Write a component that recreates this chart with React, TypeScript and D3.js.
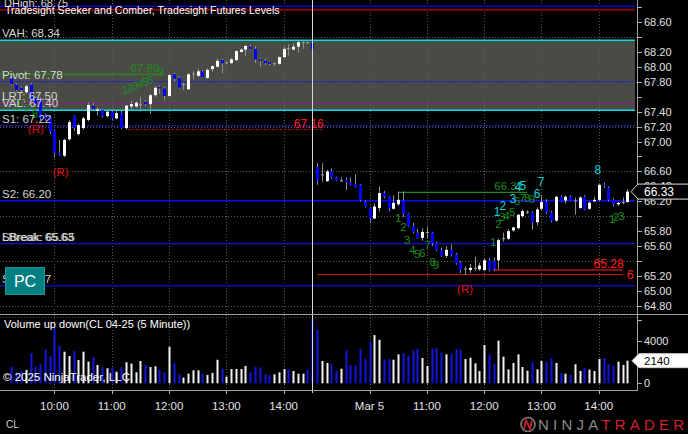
import React from "react";
import * as d3 from "d3";

const FONT = "'Liberation Sans', Arial, Helvetica, sans-serif";

// Bar index 0 = 09:05 (Mar 4), index 66 = 09:05 (Mar 5); 5-minute bars
const firstBar = 2;
const opens = [
  67.85, 67.76, 67.72, 67.66, 67.76, 67.58, 67.57, 67.35, 67.33, 67.15, 66.85, 66.81, 67.03, 67.34, 67.10, 67.18,
  67.29, 67.48, 67.41, 67.42, 67.34, 67.40, 67.31, 67.38, 67.18, 67.47, 67.47, 67.50, 67.53, 67.50, 67.62, 67.73,
  67.71, 67.61, 67.90, 67.85, 67.77, 67.70, 67.91, 67.88, 67.94, 67.85, 67.97, 68.00, 68.09, 68.05, 68.05, 68.09,
  68.20, 68.23, 68.27, 68.24, 68.10, 68.08, 68.06, 68.04, 68.04, 68.13, 68.25, 68.23, 68.27, 68.32, 68.33, 68.31,
  66.66, 66.55, 66.47, 66.60, 66.52, 66.48, 66.49, 66.45, 66.43, 66.42, 66.19, 66.11, 65.97, 66.11, 66.31, 66.26,
  66.10, 66.16, 66.21, 66.04, 65.87, 65.78, 65.71, 65.78, 65.78, 65.64, 65.54, 65.47, 65.55, 65.49, 65.38, 65.29,
  65.28, 65.30, 65.29, 65.28, 65.41, 65.40, 65.41, 65.70, 65.70, 65.81, 65.84, 66.00, 66.05, 66.05, 65.92, 66.10,
  66.19, 66.05, 65.94, 66.26, 66.21, 66.26, 66.20, 66.11, 66.26, 66.10, 66.20, 66.22, 66.42, 66.38, 66.22, 66.16,
  66.18, 66.19,
];
const highs = [
  67.87, 67.78, 67.74, 67.76, 67.78, 67.60, 67.59, 67.37, 67.35, 67.16, 67.02, 67.04, 67.29, 67.35, 67.24, 67.33,
  67.52, 67.52, 67.46, 67.44, 67.42, 67.43, 67.42, 67.42, 67.49, 67.55, 67.54, 67.60, 67.55, 67.64, 67.74, 67.75,
  67.73, 67.90, 67.92, 67.87, 67.79, 67.92, 67.94, 67.98, 67.96, 67.98, 68.02, 68.11, 68.11, 68.07, 68.12, 68.22,
  68.25, 68.29, 68.30, 68.28, 68.12, 68.11, 68.07, 68.06, 68.14, 68.27, 68.30, 68.31, 68.34, 68.34, 68.34, 68.35,
  66.71, 66.71, 66.62, 66.64, 66.53, 66.52, 66.52, 66.52, 66.56, 66.43, 66.21, 66.12, 66.17, 66.40, 66.34, 66.27,
  66.28, 66.33, 66.33, 66.05, 65.91, 65.83, 65.84, 65.86, 65.79, 65.66, 65.58, 65.60, 65.62, 65.51, 65.40, 65.33,
  65.36, 65.46, 65.38, 65.43, 65.44, 65.45, 65.70, 65.78, 65.83, 65.86, 66.03, 66.09, 66.08, 66.07, 66.12, 66.28,
  66.23, 66.07, 66.27, 66.28, 66.28, 66.28, 66.25, 66.27, 66.28, 66.20, 66.26, 66.43, 66.45, 66.40, 66.24, 66.19,
  66.25, 66.36,
];
const lows = [
  67.75, 67.67, 67.66, 67.64, 67.54, 67.48, 67.29, 67.28, 67.10, 66.79, 66.81, 66.79, 67.01, 67.14, 67.08, 67.16,
  67.27, 67.42, 67.35, 67.32, 67.32, 67.29, 67.30, 67.17, 67.16, 67.44, 67.45, 67.40, 67.48, 67.37, 67.60, 67.64,
  67.55, 67.60, 67.80, 67.71, 67.69, 67.69, 67.83, 67.86, 67.85, 67.84, 67.93, 67.99, 67.91, 68.03, 68.04, 68.08,
  68.19, 68.14, 68.23, 68.05, 68.00, 68.02, 68.02, 68.01, 68.03, 68.12, 68.15, 68.22, 68.19, 68.24, 68.30, 68.23,
  66.42, 66.46, 66.46, 66.50, 66.47, 66.46, 66.35, 66.41, 66.38, 66.20, 66.12, 65.91, 65.96, 66.06, 66.24, 66.07,
  66.09, 66.14, 65.99, 65.86, 65.77, 65.70, 65.67, 65.70, 65.60, 65.53, 65.46, 65.44, 65.46, 65.35, 65.24, 65.21,
  65.24, 65.27, 65.27, 65.27, 65.26, 65.27, 65.29, 65.66, 65.68, 65.79, 65.82, 65.98, 66.03, 65.82, 65.88, 66.08,
  66.03, 65.92, 65.93, 66.19, 66.17, 66.21, 66.02, 66.10, 66.08, 66.09, 66.19, 66.20, 66.38, 66.20, 66.13, 66.14,
  66.16, 66.18,
];
const closes = [
  67.77, 67.69, 67.69, 67.74, 67.56, 67.50, 67.31, 67.30, 67.13, 66.85, 66.82, 67.02, 67.26, 67.18, 67.22, 67.31,
  67.49, 67.44, 67.43, 67.34, 67.40, 67.31, 67.38, 67.18, 67.48, 67.50, 67.52, 67.50, 67.50, 67.62, 67.72, 67.71,
  67.61, 67.89, 67.84, 67.72, 67.77, 67.90, 67.91, 67.94, 67.86, 67.96, 68.01, 68.08, 68.05, 68.06, 68.10, 68.21,
  68.23, 68.28, 68.24, 68.10, 68.08, 68.05, 68.04, 68.05, 68.13, 68.24, 68.24, 68.27, 68.33, 68.33, 68.32, 68.24,
  66.48, 66.56, 66.60, 66.52, 66.48, 66.48, 66.46, 66.42, 66.39, 66.22, 66.13, 65.97, 66.13, 66.31, 66.26, 66.10,
  66.18, 66.22, 66.03, 65.87, 65.79, 65.71, 65.79, 65.79, 65.64, 65.55, 65.47, 65.55, 65.48, 65.37, 65.28, 65.30,
  65.31, 65.31, 65.34, 65.41, 65.28, 65.29, 65.68, 65.71, 65.80, 65.85, 66.02, 66.07, 66.06, 65.92, 66.09, 66.19,
  66.05, 65.94, 66.26, 66.20, 66.26, 66.22, 66.21, 66.25, 66.09, 66.18, 66.22, 66.42, 66.40, 66.22, 66.16, 66.18,
  66.19, 66.33,
];
const volumes = [
  1570, 1000, 1200, 1260, 2840, 1570, 1800, 3210, 2580, 5260, 3560, 2990, 2580, 3050, 2200, 2990,
  2050, 2460, 1730, 1510, 1420, 1480, 1100, 1520, 1990, 1860, 1040, 2110, 1730, 1540, 1610, 1290,
  1040, 3460, 1890, 850, 540, 910, 1230, 1230, 910, 790, 980, 2230, 1380, 630, 1350, 1350,
  1350, 1640, 1040, 1540, 1510, 850, 790, 850, 1040, 1350, 1290, 1160, 910, 910, 1260, 6080,
  5100, 2110, 1920, 1820, 1190, 1380, 3120, 1730, 1700, 3280, 2330, 3940, 4560, 4120, 2230, 2300,
  2230, 2740, 2870, 2610, 3120, 3280, 2390, 1640, 3280, 3340, 2870, 2740, 2770, 3210, 3180, 2300,
  2420, 1890, 1160, 3620, 2710, 1820, 4030, 2520, 1320, 1920, 2740, 1540, 1190, 1990, 1320, 2110,
  2050, 2350, 1920, 980, 910, 790, 1800, 1160, 1450, 1290, 1160, 2300, 2390, 1820, 1700, 2050,
  1730, 2140,
];

const hourBars = [11, 23, 35, 47, 59, 77, 89, 101, 113, 125];
const hourLabels = ["10:00", "11:00", "12:00", "13:00", "14:00", "Mar 5", "11:00", "12:00", "13:00", "14:00"];
const sessionBreakBar = 65;

const priceTicks = [64.8, 65.0, 65.2, 65.4, 65.6, 65.8, 66.0, 66.2, 66.4, 66.6, 66.8, 67.0, 67.2, 67.4, 67.6, 67.8, 68.0, 68.2, 68.4, 68.6, 68.8];
const priceTickLabels = ["68.60", "68.20", "68.00", "67.80", "67.40", "67.20", "67.00", "66.60", "66.40", "66.20", "65.80", "65.60", "65.20", "65.00", "64.80"];
const priceGrid = [64.8, 65.4, 66.0, 66.6, 67.2, 67.8, 68.4];
const volumeTicks = [0, 2000, 4000, 6000];
const volumeTickLabels = ["0", "4000"];

// key levels (line value, label text)
const levelNames = ["R1", "DHigh", "VAH", "Pivot", "LRT", "VAL", "S1", "S2", "LBreak", "SBreak", "S3"];
const levelValues = [68.81, 68.765, 68.355, 67.8, 67.51, 67.418, 67.212, 66.208, 65.632, 65.632, 65.07];
const levelTexts = ["", "DHigh: 68.75", "VAH: 68.34", "Pivot: 67.78", "LRT: 67.50", "VAL: 67.40", "S1: 67.22", "S2: 66.20", "LBreak: 65.63", "SBreak: 65.65", "S3: 65.07"];

// Seeker / Comber counts: [text, bar, price]
const greenCounts: [string, number, number][] = [
  ["5", 3.2, 67.48], ["6", 4.0, 67.52], ["7", 5.3, 67.45], ["8", 6.9, 67.37],
  ["1", 25.8, 67.69], ["2", 26.8, 67.72], ["3", 27.9, 67.74], ["4", 28.9, 67.77], ["5", 30.0, 67.8], ["6", 31.0, 67.82], ["9", 33.3, 67.93],
  ["1", 83.0, 65.97], ["2", 84.1, 65.86], ["3", 84.9, 65.68], ["4", 86.0, 65.55], ["5", 87.0, 65.49], ["6", 88.0, 65.51], ["7", 89.1, 65.62], ["8", 90.2, 65.39], ["9", 90.9, 65.35],
  ["1", 102.9, 65.65], ["2", 104.0, 65.89], ["3", 104.8, 65.99], ["4", 105.7, 66.0], ["5", 106.9, 66.06], ["6", 107.9, 66.2], ["7", 109.0, 66.25], ["8", 110.0, 66.25], ["9", 111.0, 66.23],
  ["1", 127.8, 65.96], ["2", 128.6, 65.99], ["3", 129.7, 66.0],
];
const cyanCounts: [string, number, number][] = [
  ["1", 103.7, 66.06], ["2", 104.9, 66.14], ["3", 107.0, 66.23], ["4", 108.1, 66.39], ["5", 109.1, 66.4], ["6", 112.1, 66.3], ["7", 112.9, 66.46], ["8", 124.8, 66.62],
];
const reversalMarks: [number, number][] = [[7.1, 67.17], [12.3, 66.59], [97.0, 65.03]];

// target lines: [fromBar, toBar, price, label]
const greenTargets: [number, number, number, string][] = [[-1, 33.8, 67.9, "67.89"], [83, 110, 66.32, "66.32"]];
const redTargets: [number, number, number, string][] = [[26.4, 67.2, 67.16, "67.16"], [102.8, 130, 65.28, "65.28"]];
const lowLine: [number, number, number, string] = [66, 130, 65.22, "65.22"];

const W = 688;
const H = 434;
const AX = 637;
const PRICE_BOTTOM = 314;
const VOL_TOP = 315;
const VOL_BOTTOM = 390;

export default function App() {
  const x = d3.scaleLinear().domain([0, 131]).range([1.9, 627.4]);
  const y = d3.scaleLinear().domain([64.8, 68.6]).range([305.9, 22]);
  const yv = d3.scaleLinear().domain([0, 4000]).range([383.3, 341]);

  const n = closes.length;
  const bars = d3.range(n).map((k) => ({
    g: firstBar + k,
    o: opens[k],
    h: highs[k],
    l: lows[k],
    c: closes[k],
    v: volumes[k],
  }));

  const lvl = (name: string) => levelValues[levelNames.indexOf(name)];
  const vah = lvl("VAH");
  const val = lvl("VAL");
  const levelStyle: Record<string, { stroke: string; w: number; dash?: string }> = {
    R1: { stroke: "#0000dd", w: 1.5 },
    DHigh: { stroke: "#8b0000", w: 2 },
    VAH: { stroke: "#00e0e8", w: 1.5 },
    Pivot: { stroke: "#2424b8", w: 1 },
    LRT: { stroke: "#8a1a8a", w: 1 },
    VAL: { stroke: "#00e0e8", w: 1.5 },
    S1: { stroke: "#2020a8", w: 1.5, dash: "2,1" },
    S2: { stroke: "#0a0aff", w: 1.5 },
    LBreak: { stroke: "#1010d0", w: 1 },
    SBreak: { stroke: "#1010d0", w: 1 },
    S3: { stroke: "#0c0c90", w: 2 },
  };

  const last = bars[n - 1];
  const lastPriceY = y(last.c);
  const lastVolY = yv(last.v);

  const gridColor = "#5a5a5a";
  const textColor = "#e2e2e2";

  return (
    <svg
      width={W}
      height={H}
      viewBox={`0 0 ${W} ${H}`}
      style={{ position: "fixed", left: 0, top: 0, background: "#000", display: "block" }}
      fontFamily={FONT}
    >
      <defs>
        <clipPath id="priceClip">
          <rect x={0} y={0} width={AX} height={PRICE_BOTTOM} />
        </clipPath>
        <clipPath id="labelClip">
          <rect x={0} y={0} width={634} height={PRICE_BOTTOM} />
        </clipPath>
        <clipPath id="volClip">
          <rect x={0} y={VOL_TOP} width={AX} height={VOL_BOTTOM - VOL_TOP} />
        </clipPath>
      </defs>
      <rect x={0} y={0} width={W} height={H} fill="#000" />

      {/* price panel */}
      <g clipPath="url(#priceClip)">
        <rect x={0} y={y(vah)} width={635} height={y(val) - y(vah)} fill="#4b4b45" />
        {priceGrid.map((p, i) => (
          <line key={"pg" + i} x1={0} x2={AX} y1={Math.round(y(p)) + 0.5} y2={Math.round(y(p)) + 0.5} stroke={gridColor} strokeDasharray="1,2" />
        ))}
        {hourBars.map((b, i) => (
          <line key={"vg" + i} x1={Math.round(x(b)) + 0.5} x2={Math.round(x(b)) + 0.5} y1={0} y2={PRICE_BOTTOM} stroke={gridColor} strokeDasharray="1,2" />
        ))}
        {levelNames.map((nm, i) => {
          const s = levelStyle[nm];
          const yy = y(levelValues[i]);
          return <line key={"lv" + i} x1={0} x2={635} y1={yy} y2={yy} stroke={s.stroke} strokeWidth={s.w} strokeDasharray={s.dash} />;
        })}
        {greenTargets.map((t, i) => (
          <g key={"gt" + i}>
            <line x1={x(t[0])} x2={x(t[1])} y1={y(t[2])} y2={y(t[2])} stroke="#1f8a1f" strokeWidth={1.2} />
            <text x={x(t[1]) - 4} y={y(t[2]) - 2.5} fill="#1f8a1f" fontSize={11.5} textAnchor="end">{t[3]}</text>
          </g>
        ))}
        <line x1={x(redTargets[0][0])} x2={x(redTargets[0][1])} y1={y(redTargets[0][2])} y2={y(redTargets[0][2])} stroke="#d01010" strokeWidth={1} strokeDasharray="2,2" />
        <text x={x(redTargets[0][1]) + 1} y={y(redTargets[0][2]) - 1.5} fill="#ff1a1a" fontSize={12} textAnchor="end">{redTargets[0][3]}</text>
        <line x1={x(redTargets[1][0])} x2={x(redTargets[1][1])} y1={y(redTargets[1][2])} y2={y(redTargets[1][2])} stroke="#8b0a0a" strokeWidth={2} />
        <text x={x(redTargets[1][1]) + 1} y={y(redTargets[1][2]) - 2} fill="#ff1a1a" fontSize={12} textAnchor="end">{redTargets[1][3]}</text>
        <line x1={x(lowLine[0])} x2={x(lowLine[1])} y1={y(lowLine[2])} y2={y(lowLine[2])} stroke="#cc1010" strokeWidth={1.2} />
        <g clipPath="url(#labelClip)">
          <text x={x(lowLine[1]) + 4} y={y(lowLine[2]) + 4.5} fill="#ff1a1a" fontSize={12.5}>{lowLine[3]}</text>
        </g>

        {/* candles */}
        {bars.map((b) => {
          const cx = Math.round(x(b.g));
          const up = b.c > b.o;
          const flat = Math.abs(b.c - b.o) < 0.015;
          const top = y(Math.max(b.o, b.c));
          const bot = y(Math.min(b.o, b.c));
          const fill = flat ? "#9a9a9a" : up ? "#ffffff" : "#0000ff";
          return (
            <g key={"c" + b.g}>
              <line x1={cx + 0.5} x2={cx + 0.5} y1={y(b.h)} y2={y(b.l)} stroke="#8e8e8e" strokeWidth={1} />
              <rect x={cx - 1} y={top} width={3} height={Math.max(1, bot - top)} fill={fill} />
            </g>
          );
        })}

        {greenCounts.map((t, i) => (
          <text key={"gc" + i} x={x(t[1])} y={y(t[2])} fill="#1e8a1e" fontSize={11.5} textAnchor="middle" dominantBaseline="central">{t[0]}</text>
        ))}
        {cyanCounts.map((t, i) => (
          <text key={"cc" + i} x={x(t[1])} y={y(t[2])} fill="#10d0d8" fontSize={12} textAnchor="middle" dominantBaseline="central">{t[0]}</text>
        ))}
        {reversalMarks.map((r, i) => (
          <text key={"rv" + i} x={x(r[0])} y={y(r[1])} fill="#e01010" fontSize={11.5} textAnchor="middle" dominantBaseline="central">(R)</text>
        ))}

        {levelNames.map((nm, i) =>
          levelTexts[i] && nm !== "DHigh" ? (
            <text key={"lt" + i} x={2} y={y(levelValues[i]) - 3} fill="#d4d4d4" fontSize={11.5}>{levelTexts[i]}</text>
          ) : null
        )}
        <text x={4} y={7} fill="#d4d4d4" fontSize={11}>{levelTexts[1]}</text>
        <text x={5} y={14} fill="#ffffff" fontSize={10.6}>Tradesight Seeker and Comber, Tradesight Futures Levels</text>

        <rect x={5.5} y={267.5} width={39} height={27} fill="#008080" stroke="#139a9a" strokeWidth={1} />
        <text x={25} y={281} fill="#ffffff" fontSize={16} textAnchor="middle" dominantBaseline="central">PC</text>
      </g>

      {/* volume panel */}
      <g clipPath="url(#volClip)">
        {hourBars.map((b, i) => (
          <line key={"vvg" + i} x1={Math.round(x(b)) + 0.5} x2={Math.round(x(b)) + 0.5} y1={VOL_TOP} y2={VOL_BOTTOM} stroke={gridColor} strokeDasharray="1,2" />
        ))}
        <line x1={0} x2={AX} y1={yv(6000) - 2.5} y2={yv(6000) - 2.5} stroke={gridColor} strokeDasharray="1,2" />
        {bars.map((b) => {
          const cx = Math.round(x(b.g));
          const up = b.c >= b.o;
          return <rect key={"v" + b.g} x={cx - 0.5} y={yv(b.v)} width={2} height={yv(0) - yv(b.v)} fill={up ? "#f2f2f2" : "#1414e6"} />;
        })}
        <text x={4} y={328} fill="#ffffff" fontSize={11}>Volume up down(CL 04-25 (5 Minute))</text>
        <text x={3} y={381} fill="#ffffff" fontSize={11.5}>© 2025 NinjaTrader, LLC</text>
      </g>

      {/* session break */}
      <line x1={Math.round(x(sessionBreakBar)) + 0.5} x2={Math.round(x(sessionBreakBar)) + 0.5} y1={0} y2={393} stroke="#d8d8d8" strokeWidth={1} />

      {/* frame / axes */}
      <line x1={0} x2={W} y1={314.5} y2={314.5} stroke="#a0a0a0" strokeWidth={1} />
      <line x1={0} x2={AX} y1={390.5} y2={390.5} stroke="#a0a0a0" strokeWidth={1} />
      <line x1={AX + 0.5} x2={AX + 0.5} y1={0} y2={391} stroke="#a0a0a0" strokeWidth={1} />

      {priceTicks.map((p, i) => {
        const yy = Math.round(y(p)) + 0.5;
        return yy < PRICE_BOTTOM ? <line key={"pt" + i} x1={AX} x2={AX + 5} y1={yy} y2={yy} stroke="#b0b0b0" /> : null;
      })}
      {priceTickLabels.map((s, i) => (
        <text key={"pl" + i} x={644} y={y(+s)} fill={textColor} fontSize={11} dominantBaseline="central">{s}</text>
      ))}
      {volumeTicks.map((v, i) => (
        <line key={"vt" + i} x1={AX} x2={AX + 5} y1={Math.round(yv(v)) + 0.5} y2={Math.round(yv(v)) + 0.5} stroke="#b0b0b0" />
      ))}
      {volumeTickLabels.map((s, i) => (
        <text key={"vl" + i} x={644} y={yv(+s)} fill={textColor} fontSize={11} dominantBaseline="central">{s}</text>
      ))}

      {/* last value markers */}
      <polygon
        points={`631,${lastPriceY} 638,${lastPriceY - 7.5} 690,${lastPriceY - 7.5} 690,${lastPriceY + 7.5} 638,${lastPriceY + 7.5}`}
        fill="#000"
        stroke="#e0e0e0"
        strokeWidth={1}
      />
      <text x={644} y={lastPriceY} fill="#ffffff" fontSize={12} dominantBaseline="central">{d3.format(".2f")(last.c)}</text>
      <polygon
        points={`632,${lastVolY} 639,${lastVolY - 7} 690,${lastVolY - 7} 690,${lastVolY + 7} 639,${lastVolY + 7}`}
        fill="#ffffff"
        stroke="#d0d0d0"
        strokeWidth={1}
      />
      <text x={644} y={lastVolY} fill="#000" fontSize={11.5} dominantBaseline="central">{last.v}</text>

      {/* time axis */}
      {hourBars.map((b, i) => (
        <g key={"ta" + i}>
          <line x1={Math.round(x(b)) + 0.5} x2={Math.round(x(b)) + 0.5} y1={390} y2={394} stroke="#b0b0b0" />
          <text x={x(b)} y={406} fill={textColor} fontSize={11.5} textAnchor="middle" dominantBaseline="central">{hourLabels[i]}</text>
        </g>
      ))}
      <text x={6} y={424} fill="#d0d0d0" fontSize={10} dominantBaseline="central">CL</text>

      {/* NinjaTrader logo */}
      <g>
        <circle cx={528} cy={424.5} r={7} fill="none" stroke="#7a7a7a" strokeWidth={1.6} />
        <path d="M524,429 L526,420 L530,429 L532,420" fill="none" stroke="#c8202a" strokeWidth={1.8} />
        <text x={538} y={430} fontSize={15} textLength={146} lengthAdjust="spacing" fontWeight={300}>
          <tspan fill="#8a8a8a">NINJA</tspan>
          <tspan fill="#d2232a">TRADER</tspan>
        </text>
      </g>
    </svg>
  );
}
